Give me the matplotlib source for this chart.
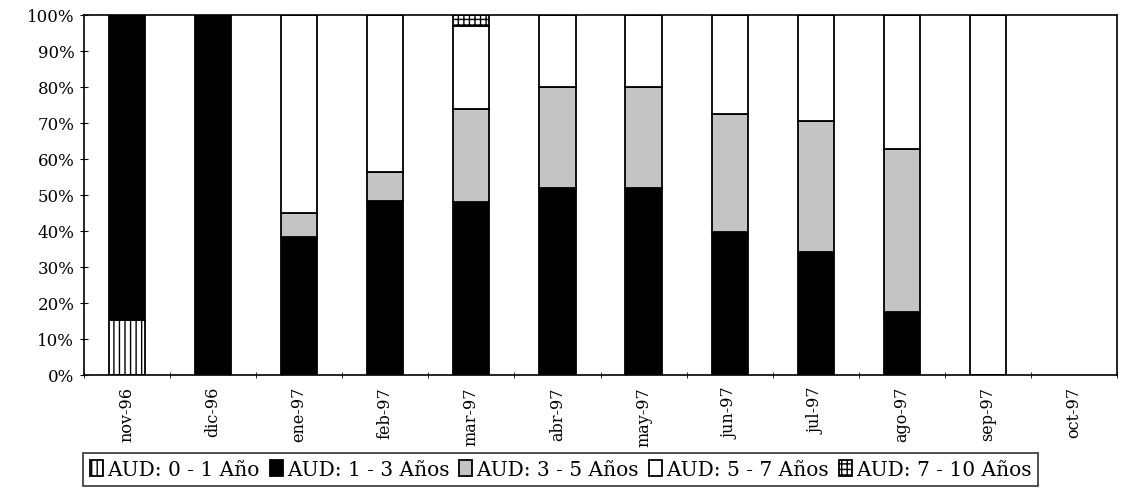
import matplotlib
matplotlib.use("Agg")
import matplotlib.pyplot as plt
import numpy as np

categories = ["nov-96", "dic-96", "ene-97", "feb-97", "mar-97", "abr-97",
              "may-97", "jun-97", "jul-97", "ago-97", "sep-97", "oct-97"]
aud_0_1 = [15.3, 0, 0, 0, 0, 0, 0, 0, 0, 0, 0, 0]
aud_1_3 = [84.7, 100, 38.3, 48.3, 48.0, 52.0, 52.0, 39.6, 34.1, 17.4, 0, 0]
aud_3_5 = [0, 0, 6.7, 8.1, 26.0, 28.0, 28.0, 32.9, 36.4, 45.3, 0, 0]
aud_5_7 = [0, 0, 55.0, 43.6, 23.0, 20.0, 20.0, 27.5, 29.5, 37.3, 100, 0]
aud_7_10 = [0, 0, 0, 0, 3.0, 0, 0, 0, 0, 0, 0, 0]
series_labels = ["AUD: 0 - 1 Año", "AUD: 1 - 3 Años", "AUD: 3 - 5 Años",
                 "AUD: 5 - 7 Años", "AUD: 7 - 10 Años"]
yticks = [0, 10, 20, 30, 40, 50, 60, 70, 80, 90, 100]

plt.rcParams['font.family'] = ['DejaVu Serif']
plt.rcParams['hatch.linewidth'] = 1.0

fig = plt.figure(figsize=(11.24, 4.89), dpi=100)
ax = fig.add_axes([84/1124, 1-376/489, (1117-84)/1124, (376-16)/489])

x = np.arange(len(categories))
w = 0.42
series = [aud_0_1, aud_1_3, aud_3_5, aud_5_7, aud_7_10]
faces = ["white", "black", "#c4c4c4", "white", "white"]
hatches = ["|||", None, None, None, "+++"]
bottom = np.zeros(len(categories))
handles = []
for vals, fc, hz, lab in zip(series, faces, hatches, series_labels):
    vals = np.array(vals, dtype=float)
    m = vals > 0
    h = ax.bar(x[m], vals[m], w, bottom=bottom[m], color=fc, edgecolor="black",
               linewidth=1.3, hatch=hz, label=lab)
    handles.append(h)
    bottom += vals

ax.set_xlim(-0.5, len(categories) - 0.5)
ax.set_ylim(0, 100)
ax.set_yticks(yticks)
ax.set_yticklabels([f"{v}%" for v in yticks], fontsize=12)
ax.set_xticks(x)
ax.set_xticklabels(categories, rotation=90, fontsize=11.5)
ax.set_xticks(np.arange(len(categories) + 1) - 0.5, minor=True)
ax.tick_params(axis='x', which='major', length=0, pad=8)
ax.tick_params(axis='x', which='minor', length=4, direction='inout')
ax.tick_params(axis='y', which='major', length=6, direction='inout', pad=4)
for s in ax.spines.values():
    s.set_linewidth(1.2)

leg = fig.legend(handles=handles, loc='lower left',
                 bbox_to_anchor=(83/1124, 2/489), ncol=5, fontsize=14.5,
                 frameon=True, fancybox=False, edgecolor='black',
                 handlelength=0.65, handleheight=0.8, handletextpad=0.2,
                 columnspacing=0.5, borderpad=0.35, borderaxespad=0)
leg.get_frame().set_linewidth(1.2)

fig.savefig("out.png", dpi=100)
